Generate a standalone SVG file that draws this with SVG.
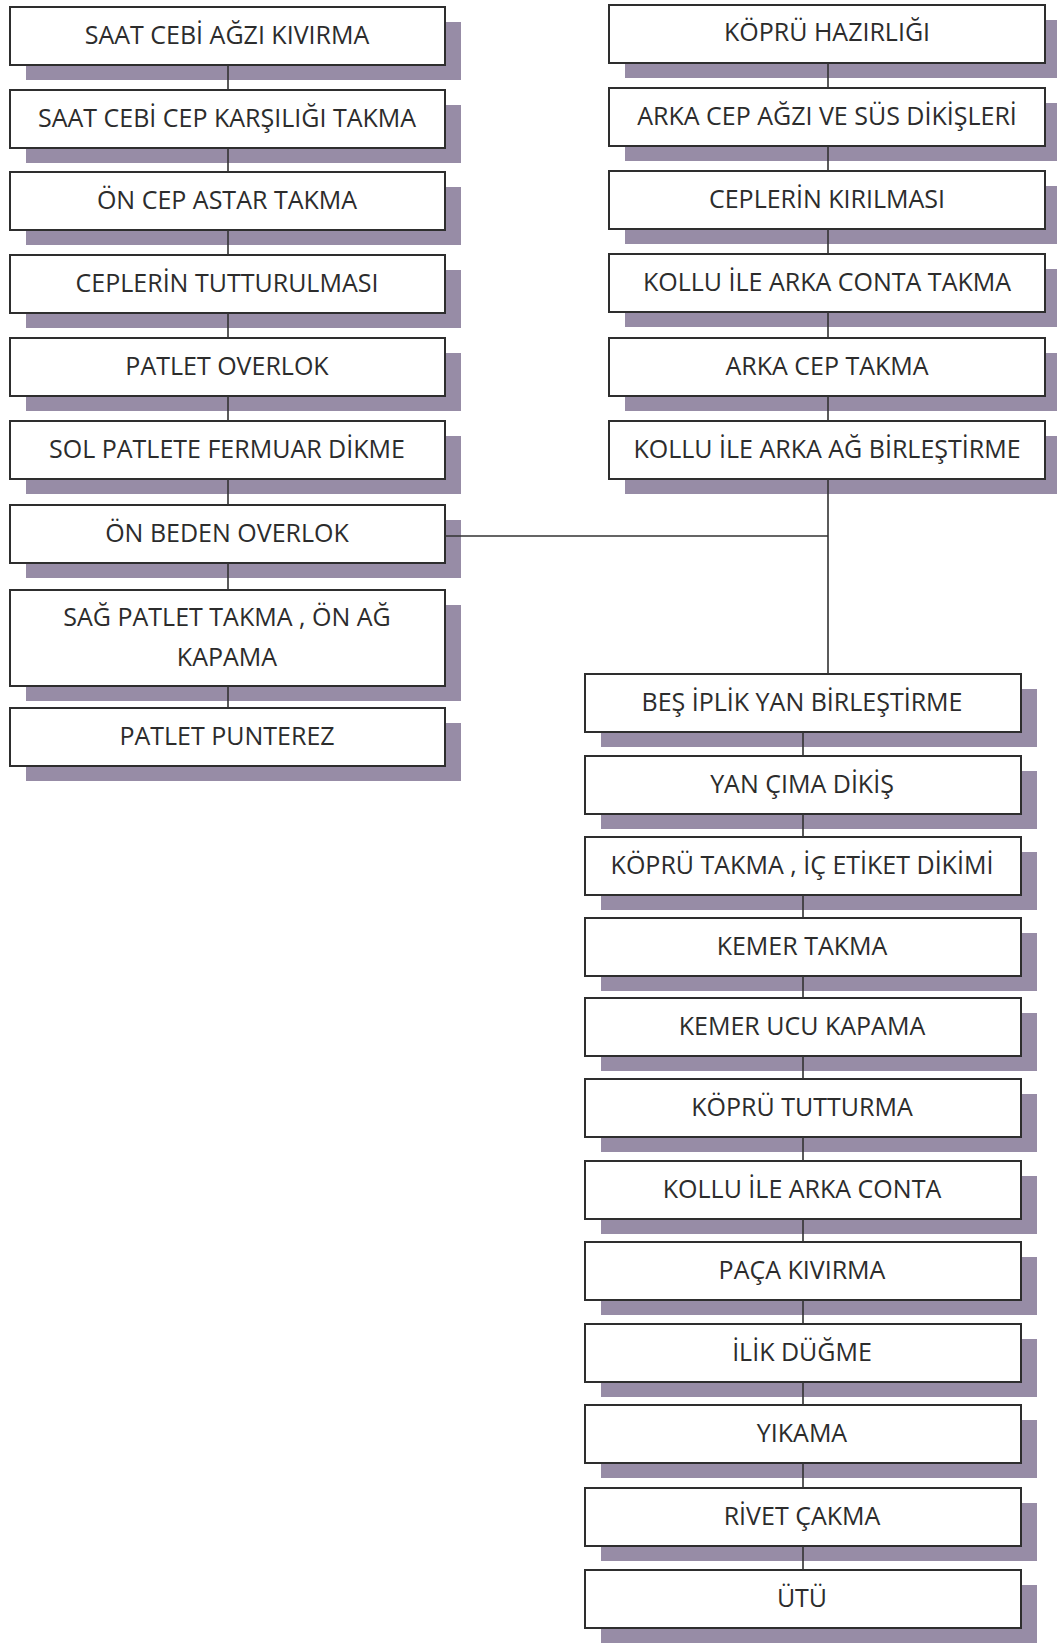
<svg xmlns="http://www.w3.org/2000/svg" width="1057" height="1644" viewBox="0 0 1057 1644">
<style>
.sh{fill:#978ca6}
.bx{fill:#ffffff;stroke:#2e2e2e;stroke-width:2}
.t{font-family:"Open Sans","Liberation Sans",sans-serif;font-size:25px;fill:#2c2c2c;text-anchor:middle}
.c{stroke:#333333;stroke-width:1.6;fill:none}
</style>
<rect width="1057" height="1644" fill="#ffffff"/>
<defs>
<g id="L"><rect class="sh" x="16" y="15" width="435" height="58"/><rect class="bx" x="0" y="0" width="435" height="58"/></g>
<g id="LT"><rect class="sh" x="16" y="15" width="435" height="96"/><rect class="bx" x="0" y="0" width="435" height="96"/></g>
<g id="R"><rect class="sh" x="16" y="15" width="436" height="58"/><rect class="bx" x="0" y="0" width="436" height="58"/></g>
</defs>
<g id="n1"><use href="#L" x="10" y="7"/><text class="t" x="227" y="44">SAAT CEBİ AĞZI KIVIRMA</text></g>
<g id="n2"><use href="#L" x="10" y="90"/><text class="t" x="227" y="127">SAAT CEBİ CEP KARŞILIĞI TAKMA</text></g>
<g id="n3"><use href="#L" x="10" y="172"/><text class="t" x="227" y="209">ÖN CEP ASTAR TAKMA</text></g>
<g id="n4"><use href="#L" x="10" y="255"/><text class="t" x="227" y="292">CEPLERİN TUTTURULMASI</text></g>
<g id="n5"><use href="#L" x="10" y="338"/><text class="t" x="227" y="375">PATLET OVERLOK</text></g>
<g id="n6"><use href="#L" x="10" y="421"/><text class="t" x="227" y="458">SOL PATLETE FERMUAR DİKME</text></g>
<g id="n7"><use href="#L" x="10" y="505"/><text class="t" x="227" y="542">ÖN BEDEN OVERLOK</text></g>
<g id="n8"><use href="#LT" x="10" y="590"/><text class="t" x="227" y="626">SAĞ PATLET TAKMA , ÖN AĞ</text><text class="t" x="227" y="666">KAPAMA</text></g>
<g id="n9"><use href="#L" x="10" y="708"/><text class="t" x="227" y="745">PATLET PUNTEREZ</text></g>

<g id="r1"><use href="#R" x="609" y="5"/><text class="t" x="827" y="41">KÖPRÜ HAZIRLIĞI</text></g>
<g id="r2"><use href="#R" x="609" y="88"/><text class="t" x="827" y="125">ARKA CEP AĞZI VE SÜS DİKİŞLERİ</text></g>
<g id="r3"><use href="#R" x="609" y="171"/><text class="t" x="827" y="208">CEPLERİN KIRILMASI</text></g>
<g id="r4"><use href="#R" x="609" y="254"/><text class="t" x="827" y="291">KOLLU İLE ARKA CONTA TAKMA</text></g>
<g id="r5"><use href="#R" x="609" y="338"/><text class="t" x="827" y="375">ARKA CEP TAKMA</text></g>
<g id="r6"><use href="#R" x="609" y="421"/><text class="t" x="827" y="458">KOLLU İLE ARKA AĞ BİRLEŞTİRME</text></g>

<g id="s1"><use href="#R" x="585" y="674"/><text class="t" x="802" y="711">BEŞ İPLİK YAN BİRLEŞTİRME</text></g>
<g id="s2"><use href="#R" x="585" y="756"/><text class="t" x="802" y="793">YAN ÇIMA DİKİŞ</text></g>
<g id="s3"><use href="#R" x="585" y="837"/><text class="t" x="802" y="874">KÖPRÜ TAKMA , İÇ ETİKET DİKİMİ</text></g>
<g id="s4"><use href="#R" x="585" y="918"/><text class="t" x="802" y="955">KEMER TAKMA</text></g>
<g id="s5"><use href="#R" x="585" y="998"/><text class="t" x="802" y="1035">KEMER UCU KAPAMA</text></g>
<g id="s6"><use href="#R" x="585" y="1079"/><text class="t" x="802" y="1116">KÖPRÜ TUTTURMA</text></g>
<g id="s7"><use href="#R" x="585" y="1161"/><text class="t" x="802" y="1198">KOLLU İLE ARKA CONTA</text></g>
<g id="s8"><use href="#R" x="585" y="1242"/><text class="t" x="802" y="1279">PAÇA KIVIRMA</text></g>
<g id="s9"><use href="#R" x="585" y="1324"/><text class="t" x="802" y="1361">İLİK DÜĞME</text></g>
<g id="s10"><use href="#R" x="585" y="1405"/><text class="t" x="802" y="1442">YIKAMA</text></g>
<g id="s11"><use href="#R" x="585" y="1488"/><text class="t" x="802" y="1525">RİVET ÇAKMA</text></g>
<g id="s12"><use href="#R" x="585" y="1570"/><text class="t" x="802" y="1607">ÜTÜ</text></g>

<g id="connectors" class="c">
<path d="M228 65V90M228 148V172M228 230V255M228 313V338M228 396V421M228 479V505M228 563V590M228 686V708"/>
<path d="M828 63V88M828 146V171M828 229V254M828 312V338M828 396V421"/>
<path d="M828 479V674M445 536H828"/>
<path d="M803 732V756M803 814V837M803 895V918M803 976V998M803 1056V1079M803 1137V1161M803 1219V1242M803 1300V1324M803 1382V1405M803 1463V1488M803 1546V1570"/>
</g>
</svg>
